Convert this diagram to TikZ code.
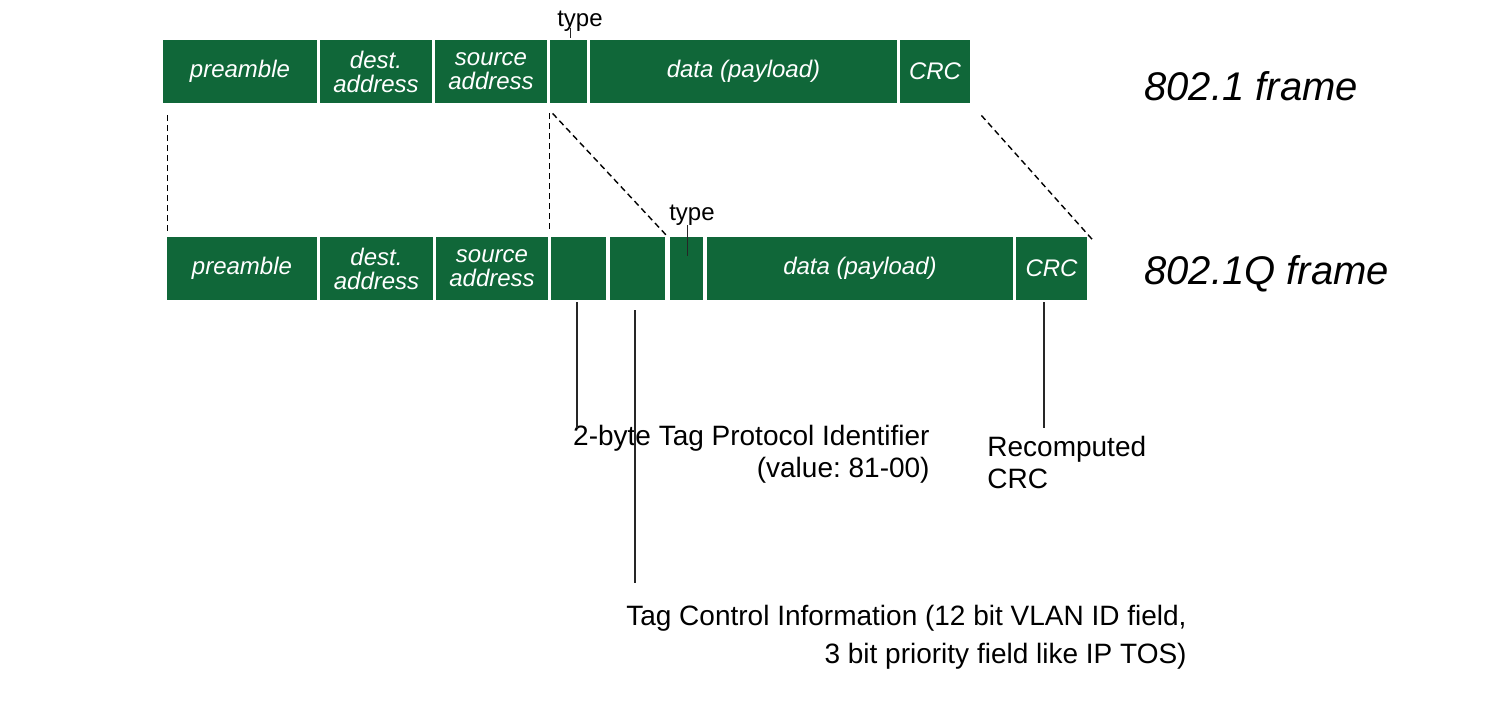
\documentclass[tikz,border=0pt]{standalone}
\usepackage{fontspec}
\setmainfont{Liberation Sans}
\usetikzlibrary{calc}
\definecolor{fgreen}{RGB}{16,103,57}
\frenchspacing
% #1 name, #2 left x, #3 right x, #4 top y, #5 text   (pixel units, 0.5pt each)
\newcommand\fieldnode[5]{%
  \node[fld, minimum width={(#3-#2)*0.5pt}, minimum height=31.5pt]
    (#1) at ({(#2+#3)/2},{#4+31.5}) {#5};}
\begin{document}
\begin{tikzpicture}[x=0.5pt,y=-0.5pt,
  fld/.style={fill=fgreen, draw=none, inner sep=0pt, text=white,
    font=\fontsize{12}{12}\selectfont\itshape, align=center},
  framelbl/.style={inner sep=0pt, anchor=base west, font=\fontsize{20}{24}\selectfont\itshape},
  typelbl/.style={inner sep=0pt, anchor=base, font=\fontsize{12}{14}\selectfont},
  note/.style={inner sep=0pt, font=\fontsize{14}{16}\selectfont},
  dashline/.style={line width=0.7pt, dash pattern=on 3pt off 2pt},
  solidline/.style={line width=0.75pt, black!85}]
\useasboundingbox (0,0) rectangle (1500,708);

% ---- 802.1 frame ----
\fieldnode{p1}{163}{317}{40}{preamble}
\fieldnode{d1}{320}{432}{40}{dest.\\address}
\fieldnode{s1}{435}{547}{40}{source\\address}
\fieldnode{t1}{550}{587}{40}{}
\fieldnode{data1}{590}{897}{40}{data (payload)}
\fieldnode{crc1}{900}{970}{40}{CRC}
\node[framelbl] (f1) at (1144,100) {802.1 frame};
\node[typelbl] (type1) at (580,26) {type};
\coordinate (tk1a) at (570.7,28);
\coordinate (tk1b) at (570.7,38);
\draw[solidline] (tk1a) -- (tk1b);

% ---- 802.1Q frame ----
\fieldnode{p2}{167}{317}{237}{preamble}
\fieldnode{d2}{320}{433}{237}{dest.\\address}
\fieldnode{s2}{436}{548}{237}{source\\address}
\fieldnode{tpid}{551}{606}{237}{}
\fieldnode{tci}{610}{665}{237}{}
\fieldnode{t2}{670}{703}{237}{}
\fieldnode{data2}{707}{1013}{237}{data (payload)}
\fieldnode{crc2}{1016}{1087}{237}{CRC}
\node[framelbl] (f2) at (1144,284) {802.1Q frame};
\node[typelbl] (type2) at (692,220) {type};
\coordinate (tk2a) at (687.5,225);
\coordinate (tk2b) at (687.5,256);
\draw[solidline] (tk2a) -- (tk2b);

% ---- dashed correspondences ----
\draw[dashline] ($(p1.south west)+(5,12)$) -- ($(p2.north west)+(1,-2)$);
\draw[dashline] ($(t1.south west)+(0,10)$) -- ($(tpid.north west)+(-1,-4)$);
\draw[dashline] ($(t1.south west)+(3,10)$) -- ($(t2.north west)+(-2,0)$);
\draw[dashline] ($(crc1.south east)+(11,12)$) -- ($(crc2.north east)+(5,3)$);

% ---- annotations ----
\node[note, anchor=north east, align=right] (tpidlbl) at (930,424.5)
  {2-byte Tag Protocol Identifier\\(value: 81-00)};
\node[note, anchor=north west, align=left] (crclbl) at (987,435.5)
  {Recomputed\\CRC};
\node[note, anchor=north east, align=right, font=\fontsize{14}{19}\selectfont] (tcilbl) at (1187,605)
  {Tag Control Information (12 bit VLAN ID field,\\3 bit priority field like IP TOS)};

\coordinate (tpidend) at (577,428);
\coordinate (tciend) at (635,583);
\coordinate (crcend) at (1044,428);
\draw[solidline] (tpid.south -| tpidend) ++(0,2) -- (tpidend);
\draw[solidline] (tci.south -| tciend) ++(0,10) -- (tciend);
\draw[solidline] (crc2.south -| crcend) ++(0,2) -- (crcend);
\end{tikzpicture}
\end{document}
